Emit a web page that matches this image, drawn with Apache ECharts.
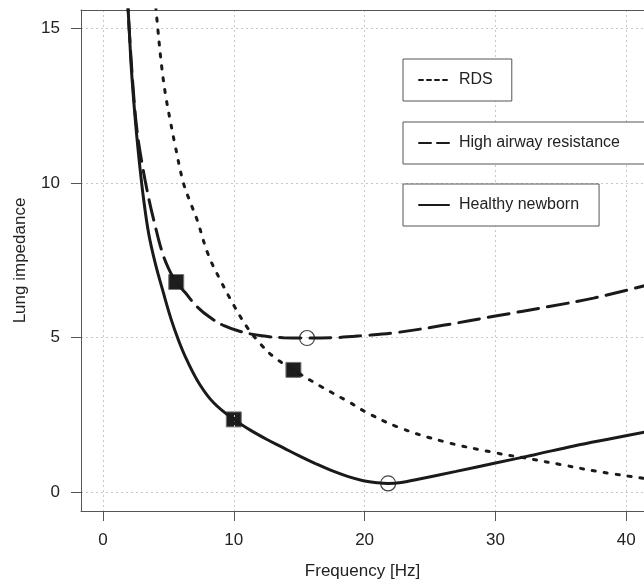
<!DOCTYPE html>
<html>
<head>
<meta charset="utf-8">
<script src="https://cdn.jsdelivr.net/npm/echarts@6/dist/echarts.min.js"></script>
<style>
  html, body { margin: 0; padding: 0; background: #fff; }
  #chart { width: 644px; height: 585px; }
</style>
</head>
<body>
<div id="chart"></div>
<script>
// values
const healthyX = [1.85, 2.0, 2.2, 2.5, 2.8, 3.1, 3.5, 4.0, 4.6, 5.2, 5.8, 6.4, 7.4, 8.5, 10, 11.2, 12.5, 13.8, 15, 16.2, 17.4, 18.7, 19.9, 21, 21.8, 22.8, 24, 27, 30, 33, 36, 39, 41.4]
const healthyY = [16.2, 15.0, 13.5, 11.9, 10.6, 9.5, 8.35, 7.4, 6.48, 5.61, 4.89, 4.29, 3.49, 2.88, 2.36, 2.03, 1.72, 1.44, 1.18, 0.94, 0.72, 0.52, 0.38, 0.31, 0.29, 0.32, 0.42, 0.68, 0.95, 1.22, 1.5, 1.75, 1.95]

const airwayX = [1.85, 2.0, 2.3, 2.6, 3.0, 3.5, 4.0, 4.5, 5.0, 5.6, 6.3, 7.2, 8.2, 9.3, 10.5, 12, 13.8, 15.6, 17.5, 20, 22.5, 26, 30, 34, 37.5, 41.4]
const airwayY = [16.2, 15.0, 13.1, 11.7, 10.6, 9.5, 8.6, 7.8, 7.25, 6.8, 6.45, 6.0, 5.65, 5.38, 5.2, 5.07, 5.0, 4.99, 5.0, 5.07, 5.17, 5.4, 5.7, 6.0, 6.28, 6.68]

const rdsX = [3.95, 4.2, 4.5, 4.8, 5.15, 5.5, 6.15, 6.7, 7.2, 8.05, 8.95, 10, 11, 12, 13, 14.56, 16.6, 18.9, 20, 22.5, 26, 30, 32.2, 35, 37.8, 41.4]
const rdsY = [16.1, 14.95, 13.72, 12.8, 12.0, 11.25, 10.0, 9.35, 8.8, 7.68, 6.88, 6.05, 5.35, 4.82, 4.4, 3.96, 3.44, 2.9, 2.62, 2.12, 1.65, 1.28, 1.12, 0.9, 0.68, 0.45]

const squareX = [5.6, 10, 14.56]
const squareY = [6.8, 2.36, 3.96]
const circleX = [15.6, 21.8]
const circleY = [4.99, 0.29]

const xTicks = [0, 10, 20, 30, 40]
const yTicks = [0, 5, 10, 15]

const zip = (xs, ys) => xs.map((x, i) => [x, ys[i]])

const FONT = 'Liberation Sans, Arial, Helvetica, sans-serif'
const INK = '#1a1a1a'

const chart = echarts.init(document.getElementById('chart'))

const makeLegend = (name, top, padRight, lineStyle) => ({
  data: [name],
  left: 403,
  top: top,
  orient: 'horizontal',
  padding: [13, padRight, 13, 15],
  itemWidth: 30,
  itemHeight: 14,
  borderColor: '#555',
  borderWidth: 1,
  backgroundColor: '#fff',
  selectedMode: false,
  lineStyle: lineStyle,
  // hide the marker dot that echarts puts on line legend icons
  itemStyle: { color: 'rgba(0,0,0,0)', borderWidth: 0, opacity: 0 },
  textStyle: { fontSize: 16, color: '#222', fontFamily: FONT, lineHeight: 16, padding: [0, 0, 0, 5] }
})

const option = {
  animation: false,
  grid: { left: 81, top: 10, right: 0, bottom: 73 },
  legend: [
    makeLegend('RDS', 59, 19, { width: 2, type: [4, 4] }),
    makeLegend('High airway resistance', 122, 27, { width: 2, type: [12, 6] }),
    makeLegend('Healthy newborn', 184, 20, { width: 2 })
  ],
  xAxis: [
    {
      type: 'value',
      min: -1.68,
      max: 41.36,
      name: 'Frequency [Hz]',
      nameLocation: 'middle',
      nameGap: 52,
      nameTextStyle: { fontSize: 17, color: '#222', fontFamily: FONT },
      axisLine: { onZero: false, lineStyle: { color: '#555', width: 1 } },
      axisTick: { show: true, length: 10, lineStyle: { color: '#555' }, customValues: xTicks },
      axisLabel: { fontSize: 17, color: '#222', fontFamily: FONT, margin: 21, customValues: xTicks },
      splitLine: { show: true, lineStyle: { color: '#c8c8c8', type: [2, 3], width: 1 } }
    },
    {
      // top frame line
      type: 'value',
      position: 'top',
      min: -1.68,
      max: 41.36,
      axisLine: { show: true, onZero: false, lineStyle: { color: '#555', width: 1 } },
      axisTick: { show: false },
      axisLabel: { show: false },
      splitLine: { show: false }
    }
  ],
  yAxis: {
    type: 'value',
    min: -0.6,
    max: 15.59,
    name: 'Lung impedance',
    nameLocation: 'middle',
    nameGap: 52,
    nameTextStyle: { fontSize: 17, color: '#222', fontFamily: FONT },
    axisLine: { show: true, onZero: false, lineStyle: { color: '#555', width: 1 } },
    axisTick: { show: true, length: 10, lineStyle: { color: '#555' }, customValues: yTicks },
    axisLabel: { fontSize: 17, color: '#222', fontFamily: FONT, margin: 21, customValues: yTicks },
    splitLine: { show: true, lineStyle: { color: '#c8c8c8', type: [2, 3], width: 1 } }
  },
  series: [
    {
      name: 'RDS',
      type: 'line',
      data: zip(rdsX, rdsY),
      smooth: 0.4,
      symbol: 'none',
      lineStyle: { color: INK, width: 3, type: [3, 9], cap: 'round' },
      itemStyle: { color: INK }
    },
    {
      name: 'High airway resistance',
      type: 'line',
      data: zip(airwayX, airwayY),
      smooth: 0.4,
      symbol: 'none',
      lineStyle: { color: INK, width: 3, type: [21, 9], cap: 'round' },
      itemStyle: { color: INK }
    },
    {
      name: 'Healthy newborn',
      type: 'line',
      data: zip(healthyX, healthyY),
      smooth: 0.4,
      symbol: 'none',
      lineStyle: { color: INK, width: 3, type: 'solid', cap: 'round' },
      itemStyle: { color: INK }
    },
    {
      type: 'scatter',
      data: zip(squareX, squareY),
      symbol: 'rect',
      symbolSize: 15,
      z: -1,
      itemStyle: { color: '#1e1e1e', borderColor: '#777', borderWidth: 1, opacity: 1 }
    },
    {
      type: 'scatter',
      data: zip(circleX, circleY),
      symbol: 'circle',
      symbolSize: 15,
      itemStyle: { color: 'rgba(0,0,0,0)', borderColor: '#444', borderWidth: 1.2, opacity: 1 }
    }
  ]
}

chart.setOption(option)
window.addEventListener('resize', () => chart.resize())
</script>
</body>
</html>
